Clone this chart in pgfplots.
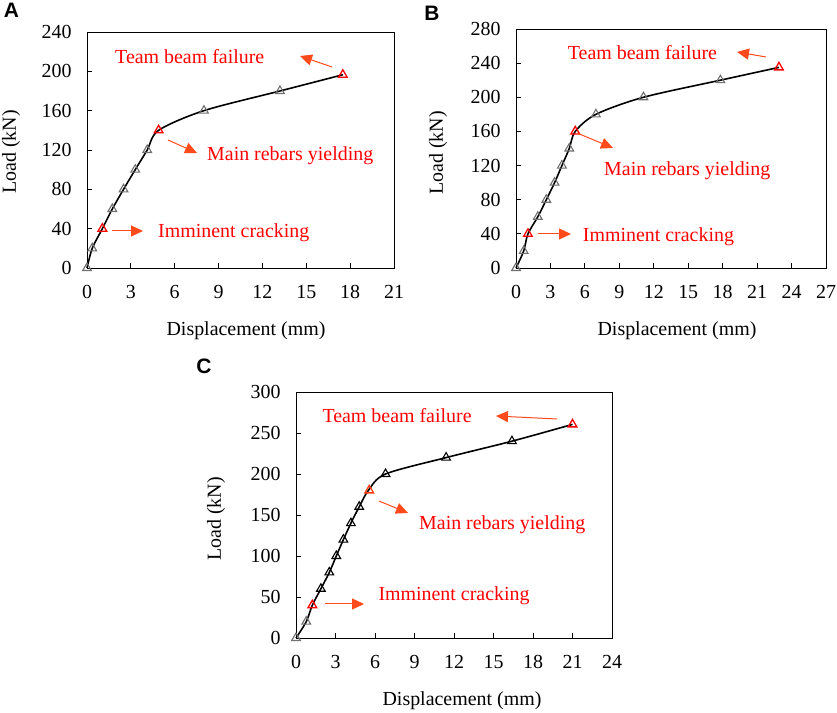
\documentclass[border=0pt]{standalone}
\usepackage{fontspec}
\setmainfont{Liberation Serif}
\newfontfamily\panelfont{Liberation Sans}
\usepackage{pgfplots}
\pgfplotsset{compat=1.18}
\usetikzlibrary{arrows.meta}
\definecolor{mred}{HTML}{FF0000}
\definecolor{arr}{HTML}{FF4A1C}
\definecolor{mgray}{HTML}{707070}
\definecolor{ored}{HTML}{FF3C14}

\begin{document}
\begin{tikzpicture}[x=1bp,y=1bp]
\useasboundingbox (0,0) rectangle (837,713);
\pgfplotsset{
  every axis/.append style={
    scale only axis,
    axis line style={black, line width=0.9bp},
    tick style={black, line width=0.9bp},
    tick align=inside,
    major tick length=5bp,
    xtick pos=lower, ytick pos=left,
    font=\fontsize{20}{24}\selectfont,
    /pgf/number format/assume math mode=true,
    xticklabel style={yshift=-14bp},
    yticklabel style={xshift=-12bp},
    clip=false,
  },
  curve/.style={black, line width=1.6bp, smooth, tension=0.5, no markers},
  gmark/.style={only marks, mark=triangle, mark size=5bp, mark options={mgray, line width=1.1bp}},
  kmark/.style={only marks, mark=triangle, mark size=5bp, mark options={black, line width=1.1bp}},
  rmark/.style={only marks, mark=triangle, mark size=5bp, mark options={mred, line width=1.3bp}},
}

% ---------------- Panel A ----------------
\begin{axis}[at={(87bp,445bp)}, anchor=south west, width=307bp, height=236bp,
  xmin=0, xmax=21, ymin=0, ymax=240,
  xtick={0,3,...,21}, ytick={0,40,...,240}]
\addplot[curve] coordinates {(0,0) (0.36,20) (1.05,40) (1.73,60) (2.5,80) (3.3,100) (4.12,120) (4.9,140) (8.0,160) (13.2,180) (17.5,196.5)};
\addplot[gmark] coordinates {(0,0) (0.36,20) (1.73,60) (2.5,80) (3.3,100) (4.12,120) (8.0,160) (13.2,180)};
\addplot[rmark] coordinates {(1.05,40) (4.9,140) (17.5,196.5)};
\end{axis}

% ---------------- Panel B ----------------
\begin{axis}[at={(516bp,445bp)}, anchor=south west, width=310bp, height=239bp,
  xmin=0, xmax=27, ymin=0, ymax=280,
  xtick={0,3,...,27}, ytick={0,40,...,280}]
\addplot[curve] coordinates {(0,0) (0.67,20) (1.04,40) (1.9,60) (2.64,80) (3.36,100) (4.0,120) (4.64,140) (5.16,160) (6.96,180) (11.1,200) (17.8,220) (22.9,235)};
\addplot[gmark] coordinates {(0,0) (0.67,20) (1.9,60) (2.64,80) (3.36,100) (4.0,120) (4.64,140) (6.96,180) (11.1,200) (17.8,220)};
\addplot[rmark] coordinates {(1.04,40) (5.16,160) (22.9,235)};
\end{axis}

% ---------------- Panel C ----------------
\begin{axis}[at={(296bp,75bp)}, anchor=south west, width=316bp, height=246bp,
  xmin=0, xmax=24, ymin=0, ymax=300,
  xtick={0,3,...,24}, ytick={0,50,...,300}]
\addplot[curve] coordinates {(0,0) (0.78,20) (1.24,40) (1.89,60) (2.53,80) (3.06,100) (3.6,120) (4.17,140) (4.8,160) (5.5,180) (6.8,200) (11.4,220) (16.4,240) (21.0,260.5)};
\addplot[gmark] coordinates {(0,0) (0.78,20)};
\addplot[kmark] coordinates {(1.89,60) (2.53,80) (3.06,100) (3.6,120) (4.17,140) (4.8,160) (6.8,200) (11.4,220) (16.4,240)};
\addplot[only marks, mark=triangle, mark size=5bp, mark options={ored, line width=1.3bp}] coordinates {(5.56,180)};
\addplot[rmark] coordinates {(1.24,40) (21.0,260.5)};
\end{axis}

% ---------------- Labels ----------------
\begin{scope}[every node/.style={font=\fontsize{20}{24}\selectfont, inner sep=0pt}]
\node[rotate=90] at (11,561) {Load (kN)};
\node[rotate=90] at (438,560) {Load (kN)};
\node[rotate=90] at (216,194) {Load (kN)};
\node at (246,382) {Displacement (mm)};
\node at (677,382) {Displacement (mm)};
\node at (462,12) {Displacement (mm)};
\end{scope}

\begin{scope}[every node/.style={font=\panelfont\fontsize{21}{24}\selectfont\bfseries, inner sep=0pt}]
\node at (11.5,703) {A};
\node at (432,700) {B};
\node at (204,347) {C};
\end{scope}

% ---------------- Annotations ----------------
\begin{scope}[every node/.style={font=\fontsize{20}{24}\selectfont, text=mred, inner sep=0pt, anchor=base west}]
\node at (115,649.7) {Team beam failure};
\node at (207,552) {Main rebars yielding};
\node at (158,475) {Imminent cracking};
\node at (567.7,653.7) {Team beam failure};
\node at (604,537.7) {Main rebars yielding};
\node at (582.7,471.3) {Imminent cracking};
\node at (322.3,290.7) {Team beam failure};
\node at (419,183.7) {Main rebars yielding};
\node at (378.3,112) {Imminent cracking};
\end{scope}

\begin{scope}[arr, line width=1bp, -{Triangle[length=12bp,width=11bp]}]
\draw (332,646) -- (300,657);
\draw (168,573) -- (197,560);
\draw (112,482) -- (143,482);
\draw (766,656) -- (737,661);
\draw (577,580) -- (613,565);
\draw (538,479) -- (571,479);
\draw (557,294) -- (496,297);
\draw (379,212) -- (408,200);
\draw (325,109) -- (364,109);
\end{scope}
\end{tikzpicture}
\end{document}
